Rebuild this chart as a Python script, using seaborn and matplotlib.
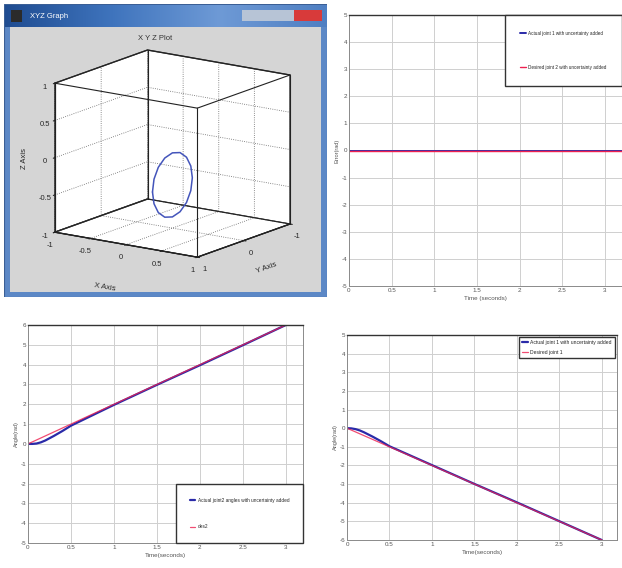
import numpy as np
import pandas as pd
import matplotlib
matplotlib.use("Agg")
import matplotlib.pyplot as plt
from matplotlib.patches import Rectangle
from matplotlib.colors import LinearSegmentedColormap
from matplotlib.ticker import StrMethodFormatter
import seaborn as sns

# ---- data ----
# 3D circle (X Axis, Y Axis, Z Axis)
circle_x = [0, 0, 0, 0, 0, 0, 0, 0, 0, 0, 0, 0, 0, 0, 0, 0, 0]
circle_y = [0.43, 0.397, 0.304, 0.165, 0, -0.165, -0.304, -0.397, -0.43,
            -0.397, -0.304, -0.165, 0, 0.165, 0.304, 0.397, 0.43]
circle_z = [-0.42, -0.255, -0.116, -0.023, 0.01, -0.023, -0.116, -0.255, -0.42,
            -0.585, -0.724, -0.817, -0.85, -0.817, -0.724, -0.585, -0.42]

# top right: joint error, both flat at zero
t_err = [0, 0.5, 1, 1.5, 2, 2.5, 3, 3.2]
err_actual = [0, 0, 0, 0, 0, 0, 0, 0]
err_desired = [0, 0, 0, 0, 0, 0, 0, 0]

# bottom left: joint 2
t_act = [0, 0.05, 0.1, 0.15, 0.2, 0.3, 0.4, 0.5, 1.0, 1.5, 2.0, 2.5, 3.0]
q2_actual = [0, 0.0, 0.02, 0.08, 0.17, 0.4, 0.65, 0.92, 1.97, 2.98, 3.97, 4.98, 6.0]
t_des = [0, 0.5, 1, 1.5, 2, 2.5, 3]
q2_desired = [0, 1, 2, 3, 4, 5, 6]

# bottom right: joint 1
q1_actual = [0, -0.01, -0.05, -0.12, -0.22, -0.45, -0.7, -0.97, -1.98, -2.99, -3.98, -4.99, -6.0]
q1_desired = [0, -1, -2, -3, -4, -5, -6]

time_ticks = [0, 0.5, 1, 1.5, 2, 2.5, 3]
time_ticklabels = ["0", "0.5", "1", "1.5", "2", "2.5", "3"]

sns.set_style("white")
plt.rcParams['font.family'] = ['Liberation Sans', 'DejaVu Sans']
plt.rcParams['axes.unicode_minus'] = False

W, H = 622, 568
fig = plt.figure(figsize=(W / 100, H / 100), dpi=100)


def px_axes(x0, y0, x1, y1, **kw):
    # axes from pixel box (top-left origin)
    return fig.add_axes([x0 / W, 1 - y1 / H, (x1 - x0) / W, (y1 - y0) / H], **kw)


BLUE = "#2a2aa8"
RED = "#ee2050"


def style_panel(ax, ylim, xmax, xlabel, ylabel):
    ax.set_xlim(0, xmax)
    ax.set_ylim(*ylim)
    ax.set_xticks(time_ticks)
    ax.set_xticklabels(time_ticklabels)
    ax.set_yticks(range(ylim[0], ylim[1] + 1))
    ax.grid(True, color="#cfcfcf", linewidth=0.7)
    ax.tick_params(labelsize=4.5, labelcolor="#555555", direction="in",
                   length=2, pad=1.5, color="#666666")
    for s in ax.spines.values():
        s.set_color("#8a8a8a")
        s.set_linewidth(0.7)
    ax.spines["top"].set_color("#333333")
    ax.spines["top"].set_linewidth(1.0)
    ax.set_xlabel(xlabel, fontsize=4.5, color="#555555", labelpad=2)
    ax.set_ylabel(ylabel, fontsize=4, color="#555555", labelpad=1)


# ---- top left: the XYZ window ----
win = px_axes(4, 4, 327, 297)
win.axis("off")
win.add_patch(Rectangle((0, 0), 323, 293, fc="#5c88c6", ec="#3b5f95", lw=0.8))
bar_cmap = LinearSegmentedColormap.from_list("bar", ["#1f4c91", "#3f74bd", "#6e9ad6", "#4f7fc2"])
win.imshow(np.linspace(0, 1, 256)[None, :], cmap=bar_cmap, aspect="auto",
           extent=(1, 322, 23, 1), zorder=1)
win.add_patch(Rectangle((6, 23), 311, 265, fc="#d5d5d5", ec="none", zorder=2))
win.add_patch(Rectangle((7, 6), 11, 12, fc="#2b2b2b", ec="none", zorder=3))
win.add_patch(Rectangle((238, 6), 52, 11, fc="#b7c4d6", ec="none", zorder=3))
win.add_patch(Rectangle((290, 6), 28, 11, fc="#d83a3a", ec="none", zorder=3))
win.text(26, 13, "XYZ Graph", color="white", fontsize=5.5, va="center", zorder=4)
win.set_xlim(0, 323)
win.set_ylim(293, 0)
fig.text(155 / W, 1 - 38 / H, "X Y Z Plot", fontsize=5.5, color="#333333", ha="center", va="center")

grid3d = {"color": "#666666", "linestyle": ":", "linewidth": 0.6}
ax3 = px_axes(29, 31, 309, 283, projection="3d")
ax3.set_facecolor("none")
ax3.set_proj_type("ortho")
ax3.view_init(elev=14.5, azim=35)
ax3.set_box_aspect((1.05, 1.13, 1.0), zoom=1.09)
for axis in (ax3.xaxis, ax3.yaxis, ax3.zaxis):
    axis.set_pane_color((1, 1, 1, 1))
    axis.pane.set_edgecolor("#333333")
    axis._axinfo["grid"].update(grid3d)
    axis.line.set_color("#222222")
    axis.line.set_linewidth(0.8)
    axis.set_major_formatter(StrMethodFormatter("{x:g}"))
ax3.set_xlim(-1, 1)
ax3.set_ylim(-1, 1)
ax3.set_zlim(-1, 1)
ax3.set_xticks([-1, 0, 1])
ax3.set_yticks([-1, -0.5, 0, 0.5, 1])
ax3.set_zticks([-1, -0.5, 0, 0.5, 1])
ax3.tick_params(labelsize=5.5, pad=-3)
ax3.tick_params(axis="z", pad=-4)
ax3.set_xlabel("Y Axis", fontsize=5.5, labelpad=-6)
ax3.set_ylabel("X Axis", fontsize=5.5, labelpad=1)
ax3.set_zlabel("Z Axis", fontsize=5.5, labelpad=-9)

# full box like matlab
lo, hi = -1, 1
for a in (lo, hi):
    for b in (lo, hi):
        ax3.plot([lo, hi], [a, a], [b, b], color="#222222", lw=0.8)
        ax3.plot([a, a], [lo, hi], [b, b], color="#222222", lw=0.8)
        ax3.plot([a, a], [b, b], [lo, hi], color="#222222", lw=0.8)

ax3.plot(circle_y, circle_x, circle_z, color="#4455bb", lw=1.1)

# ---- top right ----
ax_tr = px_axes(349, 15, 622, 286)
df_tr = pd.DataFrame({"t": t_err, "actual": err_actual, "desired": err_desired})
sns.lineplot(data=df_tr, x="t", y="actual", ax=ax_tr, color=BLUE, lw=1.4,
             label="Actual joint 1 with uncertainty added")
sns.lineplot(data=df_tr, x="t", y="desired", ax=ax_tr, color=RED, lw=1.0,
             label="Desired joint 2 with uncertainty added")
style_panel(ax_tr, (-5, 5), 3.2, "Time (seconds)", "Error(rad)")
ax_tr.legend(loc="upper right", fontsize=3.3, frameon=True, fancybox=False,
             edgecolor="#333333", framealpha=1, labelspacing=6.4, borderpad=3.4,
             handlelength=1.2, handletextpad=0.5, borderaxespad=0)

# ---- bottom left ----
ax_bl = px_axes(28, 325, 303, 543)
sns.lineplot(x=t_act, y=q2_actual, ax=ax_bl, color=BLUE, lw=1.6, sort=False,
             estimator=None, label="Actual joint2 angles with uncertainty added")
sns.lineplot(x=t_des, y=q2_desired, ax=ax_bl, color=RED, lw=0.9, alpha=0.8,
             sort=False, estimator=None, label="des2")
style_panel(ax_bl, (-5, 6), 3.2, "Time(seconds)", "Angle(rad)")
ax_bl.legend(loc="lower right", fontsize=3.4, frameon=True, fancybox=False,
             edgecolor="#333333", framealpha=1, labelspacing=4.6, borderpad=2.9,
             handlelength=1.2, handletextpad=0.5, borderaxespad=0)

# ---- bottom right ----
ax_br = px_axes(347, 335, 617, 540)
sns.lineplot(x=t_act, y=q1_actual, ax=ax_br, color=BLUE, lw=1.6, sort=False,
             estimator=None, label="Actual joint 1 with uncertainty added")
sns.lineplot(x=t_des, y=q1_desired, ax=ax_br, color=RED, lw=0.9, alpha=0.8,
             sort=False, estimator=None, label="Desired joint 1")
style_panel(ax_br, (-6, 5), 3.18, "Time(seconds)", "Angle(rad)")
ax_br.legend(loc="upper right", fontsize=3.6, frameon=True, fancybox=False,
             edgecolor="#333333", framealpha=1, labelspacing=1.0, borderpad=0.6,
             handlelength=1.2, handletextpad=0.5, borderaxespad=0.4)

fig.savefig("out.png", dpi=100)
